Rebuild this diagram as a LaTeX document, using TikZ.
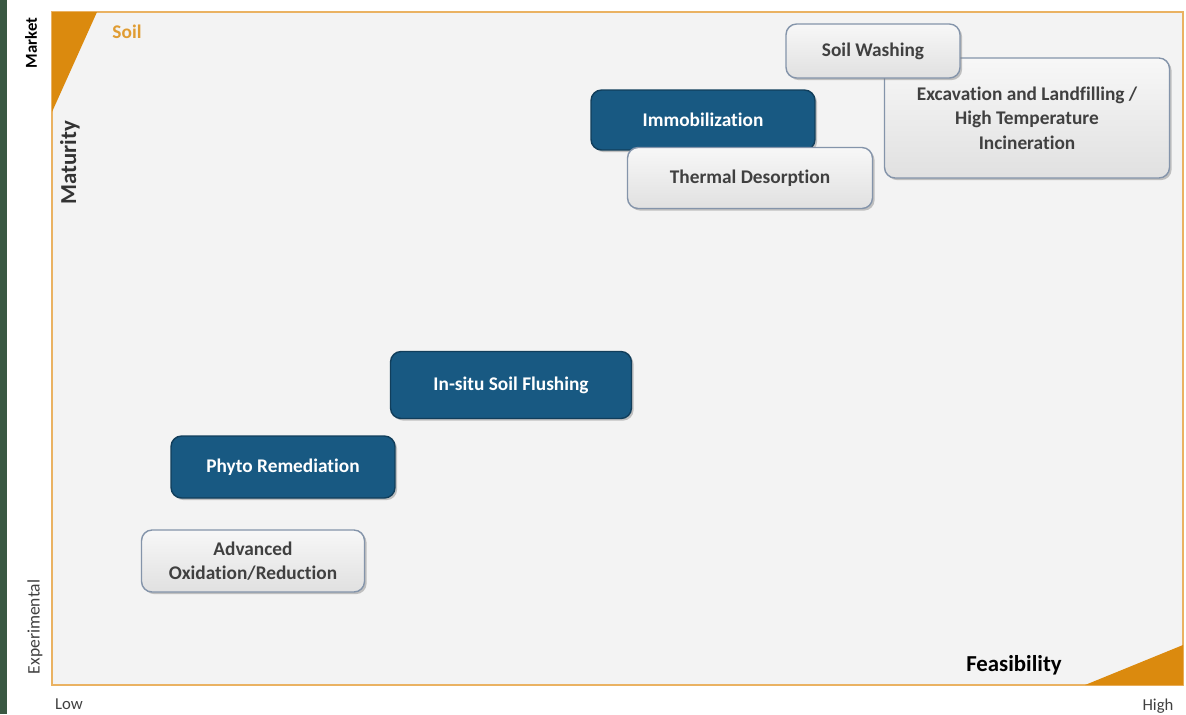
\documentclass[tikz,border=0pt]{standalone}
\usepackage{fontspec}
\setmainfont{Carlito}[Ligatures=NoCommon]
\usetikzlibrary{shadows}
\definecolor{techblue}{RGB}{24,89,130}
\definecolor{boxedge}{RGB}{132,148,170}
\definecolor{soilorange}{RGB}{219,138,14}
\definecolor{framelight}{RGB}{234,178,98}
\definecolor{plotbg}{RGB}{243,243,243}
\definecolor{stripgreen}{RGB}{58,88,66}
\begin{document}
\begin{tikzpicture}
  [x=0.02cm, y=-0.02cm,
   bluebox/.style={rounded corners=6pt, fill=techblue, draw=techblue!70!black, thick,
     text=white, font=\fontsize{11}{14}\selectfont\bfseries, align=center,
     drop shadow={opacity=0.45, shadow xshift=1.2pt, shadow yshift=-1.2pt}},
   graybox/.style={rounded corners=6pt, top color=gray!6, bottom color=gray!24, draw=boxedge, thick,
     text=black!75, font=\fontsize{11}{14}\selectfont\bfseries, align=center,
     drop shadow={opacity=0.45, shadow xshift=1.2pt, shadow yshift=-1.2pt}},
   axislabel/.style={text=black!75, font=\fontsize{9.5}{11}\selectfont}]

  % Canvas
  \useasboundingbox (0,0) rectangle (1186,714);
  \fill[white] (0,0) rectangle (1186,714);
  \fill[stripgreen] (0,0) rectangle (7,714);

  % Plot area
  \coordinate (tl) at (52,12);
  \coordinate (br) at (1183,685);
  \fill[plotbg] (tl) rectangle (br);
  \draw[framelight, line width=1pt] (tl) rectangle (br);
  \fill[soilorange] (52,12) -- (97,12) -- (52,112) -- cycle;
  \fill[soilorange] (1085,685) -- (1183,685) -- (1183,645) -- cycle;

  % Axis texts
  \node[text=soilorange!85, font=\fontsize{11}{13}\selectfont\bfseries] (soil) at (127,32) {Soil};
  \node[rotate=90, font=\fontsize{9.5}{12}\selectfont\bfseries] (market) at (31,43) {Market};
  \node[rotate=90, text=black!80, font=\fontsize{13}{15}\selectfont\bfseries] (maturity) at (70,163) {Maturity};
  \node[rotate=90, axislabel, font=\fontsize{10}{12}\selectfont] (experimental) at (35,627) {Experimental};
  \node[axislabel] (low) at (69,704) {Low};
  \node[axislabel] (high) at (1158,706) {High};
  \node[font=\fontsize{13}{15}\selectfont\bfseries] (feasibility) at (1014,665) {Feasibility};

  % Technologies
  \node[graybox, minimum width=5.7cm, minimum height=2.4cm] (excav) at (1027,118)
    {Excavation and Landfilling /\\High Temperature\\Incineration};
  \node[graybox, minimum width=3.48cm, minimum height=1.08cm] (wash) at (873,51) {Soil Washing};
  \node[bluebox, minimum width=4.48cm, minimum height=1.2cm] (immob) at (703,120) {Immobilization};
  \node[graybox, minimum width=4.9cm, minimum height=1.22cm] (thermal) at (750,178) {Thermal Desorption};
  \node[bluebox, minimum width=4.82cm, minimum height=1.34cm] (flush) at (511,385) {In-situ Soil Flushing};
  \node[bluebox, minimum width=4.48cm, minimum height=1.24cm] (phyto) at (283,467) {Phyto Remediation};
  \node[graybox, minimum width=4.46cm, minimum height=1.24cm] (aop) at (253,561)
    {Advanced\\Oxidation/Reduction};
\end{tikzpicture}
\end{document}
